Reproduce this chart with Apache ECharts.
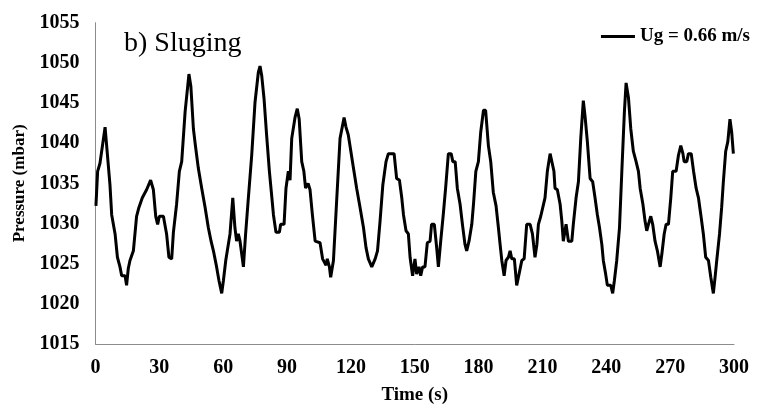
<!DOCTYPE html>
<html><head><meta charset="utf-8">
<script src="https://cdn.jsdelivr.net/npm/echarts@6/dist/echarts.min.js"></script>
<style>html,body{margin:0;padding:0;background:#fff}#c{width:758px;height:410px}</style>
</head><body><div id="c"></div>
<script>
const seriesName = 'Ug = 0.66 m/s';
const titleText = 'b) Sluging';
const time = [0.2,1.0,2.1,2.9,4.5,5.3,6.8,7.6,9.2,10.3,11.5,12.3,13.9,14.6,15.4,16.2,17.8,19.3,20.4,22.0,24.0,25.9,27.2,28.3,29.2,30.0,31.9,33.4,34.5,35.8,36.6,38.1,39.4,40.5,42.1,43.9,44.8,46.0,46.8,48.3,49.9,51.5,53.0,54.3,55.4,56.9,58.0,59.3,60.1,61.2,62.4,63.2,64.5,65.5,66.3,67.1,67.9,69.5,70.5,71.6,73.4,74.95,76.5,77.3,78.1,79.2,80.4,81.7,82.8,83.6,84.8,86.4,87.0,88.6,89.5,90.6,91.4,92.2,93.75,94.8,95.7,96.9,97.9,98.7,99.9,100.8,101.9,103.2,105.5,106.7,108.3,108.9,109.9,110.5,111.8,113.3,114.9,116.8,117.7,118.8,119.6,121.2,122.7,124.3,125.9,127.1,128.2,129.8,130.6,131.4,132.5,133.7,135.0,136.5,137.6,140.3,141.5,142.8,143.9,144.7,145.9,147.0,147.8,149.0,150.1,150.9,152.0,152.8,153.7,154.8,155.9,157.2,157.9,159.2,160.3,161.1,162.2,163.4,164.5,165.8,167.1,167.9,169.0,170.0,171.3,172.4,173.6,174.4,175.5,176.8,177.6,178.7,179.9,181.0,182.3,183.3,184.6,185.7,186.9,188.2,189.3,190.1,190.9,192.0,192.9,194.0,194.8,195.6,196.8,197.9,199.0,200.3,201.4,202.6,204.2,205.3,206.5,207.4,208.1,209.2,210.1,211.2,212.3,213.6,214.3,215.4,215.9,217.0,218.3,219.1,219.8,221.1,222.2,223.8,224.5,225.8,226.9,228.0,229.2,230.0,231.1,232.4,233.6,234.7,235.8,236.8,237.9,238.6,239.7,240.5,242.1,243.0,243.8,244.9,246.2,247.3,248.5,249.3,250.4,251.5,252.7,254.0,255.1,255.9,257.2,258.2,259.0,259.8,260.9,261.8,262.9,264.0,265.3,266.1,267.2,268.1,269.2,270.3,271.2,272.8,273.9,275.0,276.0,276.6,277.8,278.6,279.9,281.0,282.2,283.3,284.4,285.6,286.7,288.0,289.1,290.3,291.1,291.9,293.2,294.2,295.0,296.1,297.1,298.1,298.9,299.7];
const pressure = [1032.2,1036.5,1037.5,1037.7,1042.0,1041.8,1034.8,1031.1,1028.7,1025.8,1024.6,1023.5,1023.5,1022.3,1024.4,1025.4,1026.6,1030.9,1032.0,1033.2,1034.2,1035.4,1034.2,1030.9,1029.9,1030.9,1030.9,1028.7,1025.8,1025.6,1028.9,1032.4,1036.5,1037.7,1043.9,1048.6,1047.1,1041.8,1040.0,1036.9,1034.4,1032.0,1029.5,1027.8,1026.6,1024.6,1022.9,1021.3,1022.9,1025.4,1027.4,1028.7,1033.2,1029.5,1027.8,1028.7,1027.8,1024.6,1028.6,1032.4,1038.5,1045.1,1048.8,1049.6,1048.4,1045.5,1041.0,1036.5,1033.4,1031.1,1028.9,1028.9,1029.9,1029.9,1034.4,1036.5,1035.4,1040.6,1043.2,1044.3,1043.0,1037.7,1036.5,1034.4,1035.0,1034.2,1031.1,1027.8,1027.6,1025.6,1024.8,1025.6,1024.6,1023.3,1025.4,1032.8,1040.6,1043.2,1042.0,1041.0,1040.8,1036.9,1034.4,1032.0,1029.5,1027.0,1025.6,1024.6,1024.6,1025.6,1026.6,1030.3,1034.8,1037.7,1038.7,1038.7,1035.6,1035.4,1033.2,1031.1,1029.1,1028.7,1025.8,1023.5,1025.6,1023.7,1024.6,1023.5,1024.6,1024.6,1027.6,1027.8,1029.9,1029.9,1027.0,1024.6,1027.8,1031.1,1034.4,1038.7,1038.7,1037.7,1037.7,1034.4,1032.4,1029.9,1027.4,1026.6,1027.8,1029.9,1032.4,1036.5,1037.7,1041.4,1044.1,1044.1,1039.7,1037.7,1033.9,1032.2,1029.5,1027.4,1025.4,1023.5,1025.4,1025.8,1026.6,1025.6,1025.6,1022.3,1023.7,1025.4,1025.6,1029.9,1029.9,1028.7,1025.8,1027.4,1029.9,1030.9,1031.1,1033.2,1036.5,1038.7,1038.7,1036.5,1034.4,1034.2,1032.4,1030.3,1027.8,1029.9,1027.8,1027.8,1029.9,1033.2,1035.2,1040.6,1045.3,1043.4,1040.2,1035.6,1035.2,1033.2,1031.1,1029.5,1027.4,1025.4,1023.7,1022.3,1022.3,1021.3,1022.9,1025.4,1029.5,1036.5,1043.9,1047.5,1045.7,1041.8,1039.0,1037.7,1036.5,1034.4,1032.4,1030.3,1029.1,1029.9,1030.9,1029.9,1027.8,1026.6,1024.6,1026.2,1028.7,1029.9,1029.9,1033.2,1036.5,1036.5,1038.5,1039.7,1038.7,1037.7,1037.7,1038.7,1038.7,1036.5,1034.4,1033.2,1031.1,1028.7,1025.8,1025.4,1023.3,1021.3,1023.3,1025.4,1028.7,1032.0,1035.2,1039.0,1040.2,1043.0,1041.4,1038.7];
const xTicks = {min: 0, max: 300, interval: 30};
const yTicks = {min: 1015, max: 1055, interval: 5};

const data = time.map((t, i) => [t, pressure[i]]);
const chart = echarts.init(document.getElementById('c'), null, {renderer: 'canvas'});
const font = "'Liberation Serif', 'Times New Roman', serif";
chart.setOption({
  animation: false,
  backgroundColor: '#fff',
  title: {
    text: titleText, left: 119, top: 25,
    textStyle: {fontFamily: font, fontWeight: 'normal', fontSize: 28, color: '#000'}
  },
  legend: {
    right: 3, top: 22,
    icon: 'rect', itemWidth: 34, itemHeight: 3, itemGap: 5,
    textStyle: {fontFamily: font, fontWeight: 'bold', fontSize: 19, color: '#000'},
    data: [seriesName]
  },
  grid: {left: 95.5, right: 24, top: 22.7, bottom: 62.3, containLabel: false},
  xAxis: {
    type: 'value', min: xTicks.min, max: xTicks.max, interval: xTicks.interval,
    name: 'Time (s)', nameLocation: 'middle', nameGap: 42,
    nameTextStyle: {fontFamily: font, fontWeight: 'bold', fontSize: 19, color: '#000'},
    axisLine: {lineStyle: {color: '#8c8c8c', width: 1}},
    axisTick: {show: false},
    splitLine: {show: false},
    axisLabel: {fontFamily: font, fontWeight: 'bold', fontSize: 20, color: '#000', margin: 14,
      formatter: v => String(v)}
  },
  yAxis: {
    type: 'value', min: yTicks.min, max: yTicks.max, interval: yTicks.interval,
    name: 'Pressure (mbar)', nameLocation: 'middle', nameGap: 64, nameRotate: 90,
    nameTextStyle: {fontFamily: font, fontWeight: 'bold', fontSize: 17, color: '#000'},
    axisLine: {show: true, lineStyle: {color: '#8c8c8c', width: 1}},
    axisTick: {show: false},
    splitLine: {show: false},
    axisLabel: {fontFamily: font, fontWeight: 'bold', fontSize: 20, color: '#000', margin: 16,
      formatter: v => String(v)}
  },
  series: [{
    name: seriesName, type: 'line', data: data,
    showSymbol: false, symbol: 'none',
    lineStyle: {color: '#000', width: 3},
    itemStyle: {color: '#000'}
  }]
});
</script></body></html>
